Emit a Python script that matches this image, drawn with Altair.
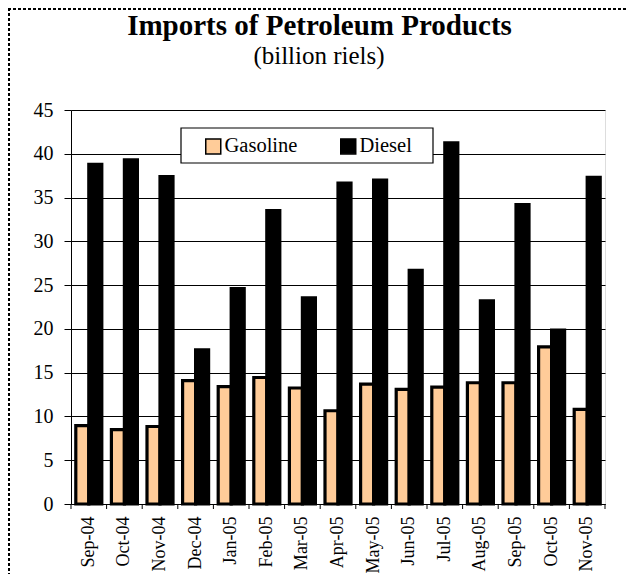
import altair as alt
import pandas as pd

# ---- data ----
months = ["Sep-04", "Oct-04", "Nov-04", "Dec-04", "Jan-05", "Feb-05", "Mar-05",
          "Apr-05", "May-05", "Jun-05", "Jul-05", "Aug-05", "Sep-05", "Oct-05", "Nov-05"]
gasoline = [8.95, 8.5, 8.85, 14.1, 13.4, 14.45, 13.25, 10.65, 13.7, 13.1, 13.35, 13.85, 13.85, 17.95, 10.8]
diesel = [38.8, 39.3, 37.4, 17.6, 24.6, 33.5, 23.55, 36.65, 37.0, 26.7, 41.25, 23.2, 34.2, 19.85, 37.3]
series = ["Gasoline", "Diesel"]
colors = ["#FFCC99", "#000000"]
y_ticks = [0, 5, 10, 15, 20, 25, 30, 35, 40, 45]
title_text = "Imports of Petroleum Products"
subtitle_text = "(billion riels)"
source_text = "Source: Customs and Excise Department"

rows = ([{"month": m, "series": "Gasoline", "value": v} for m, v in zip(months, gasoline)]
        + [{"month": m, "series": "Diesel", "value": v} for m, v in zip(months, diesel)])
df = pd.DataFrame(rows)

W, H = 534, 394
PAD = {"left": 63, "top": 102, "right": 23, "bottom": 70}
FONT = "Liberation Serif"

xscale = alt.Scale(domain=months, paddingInner=0, paddingOuter=0)

one = alt.Data(values=[{}])

# dashed frame (top and left)
frame_top = alt.Chart(one).mark_rule(color="black", strokeWidth=2, strokeDash=[3, 2]).encode(
    x=alt.value(-PAD["left"]), x2=alt.value(W + PAD["right"]), y=alt.value(-PAD["top"] + 1))
frame_left = alt.Chart(one).mark_rule(color="black", strokeWidth=2, strokeDash=[3, 2]).encode(
    x=alt.value(-PAD["left"] + 1), y=alt.value(-PAD["top"]), y2=alt.value(H + PAD["bottom"]))

# source line: cropped off above the frame in the reference
source = alt.Chart(alt.Data(values=[{"t": source_text}])).mark_text(
    font=FONT, fontSize=17, color="black", align="left", baseline="bottom").encode(
    x=alt.value(-PAD["left"] + 2), y=alt.value(-PAD["top"] - 2), text="t:N")

title = alt.Chart(alt.Data(values=[{"t": title_text}])).mark_text(
    font=FONT, fontSize=29, fontWeight="bold", color="black", align="center", baseline="alphabetic").encode(
    x=alt.value(248.5), y=alt.value(-75), text="t:N")
subtitle = alt.Chart(alt.Data(values=[{"t": subtitle_text}])).mark_text(
    font=FONT, fontSize=25, color="black", align="center", baseline="alphabetic").encode(
    x=alt.value(248), y=alt.value(-46), text="t:N")

legend_box = alt.Chart(one).mark_rect(fill="white", stroke="black", strokeWidth=1.2).encode(
    x=alt.value(110), x2=alt.value(362), y=alt.value(18), y2=alt.value(53))

bars = alt.Chart(df).mark_bar(stroke="black", strokeWidth=3.2).encode(
    x=alt.X("month:N", scale=xscale, sort=months,
            axis=alt.Axis(title=None, ticks=False, domain=True, domainColor="black",
                          labelAngle=-90, labelAlign="right", labelBaseline="middle",
                          labelPadding=12, labelFont=FONT, labelFontSize=18, labelColor="black")),
    xOffset=alt.XOffset("series:N", sort=series,
                        scale=alt.Scale(domain=series, paddingInner=0, paddingOuter=0.369)),
    y=alt.Y("value:Q", scale=alt.Scale(domain=[0, 45], nice=False),
            axis=alt.Axis(title=None, values=y_ticks, grid=True, gridColor="black", gridWidth=1,
                          gridOpacity=1, tickSize=7, tickColor="black", domainColor="black",
                          labelPadding=11, labelFont=FONT, labelFontSize=20, labelColor="black")),
    fill=alt.Fill("series:N", scale=alt.Scale(domain=series, range=colors),
                  legend=alt.Legend(title=None, orient="none", legendX=132, legendY=26,
                                    direction="horizontal", symbolType="square", symbolSize=225,
                                    symbolStrokeColor="black", symbolStrokeWidth=1.5,
                                    labelFont=FONT, labelFontSize=20.5, labelColor="black",
                                    labelOffset=1, columnPadding=39, padding=0)),
)

ticks = alt.Chart(alt.Data(values=[{"month": m} for m in months])).mark_rule(color="black").encode(
    x=alt.X("month:N", scale=xscale, bandPosition=0), y=alt.value(H), y2=alt.value(H + 5))
end_tick = alt.Chart(one).mark_rule(color="black").encode(
    x=alt.value(W), y=alt.value(H), y2=alt.value(H + 5))

chart = alt.layer(frame_top, frame_left, source, title, subtitle, legend_box, bars, ticks, end_tick).properties(
    width=W, height=H, padding=PAD, autosize=alt.AutoSizeParams(type="none")
).configure_view(stroke="#404040", strokeWidth=1).configure(background="white")

chart.save("out.html", embed_options={"renderer": "svg", "actions": False})
